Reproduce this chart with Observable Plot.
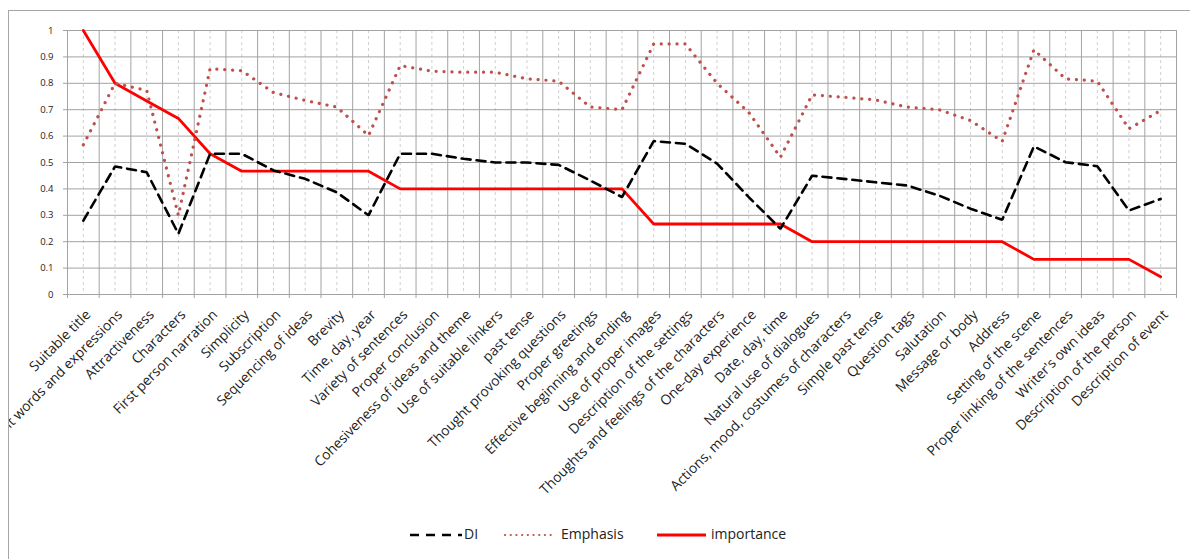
<!DOCTYPE html>
<html>
<head>
<meta charset="utf-8">
<script src="https://cdn.jsdelivr.net/npm/d3@7"></script>
<script src="https://cdn.jsdelivr.net/npm/@observablehq/plot@0.6"></script>
<style>
  html, body { margin: 0; padding: 0; background: #fff; }
  body { width: 1190px; height: 559px; position: relative; overflow: hidden; font-family: "Open Sans", sans-serif; }
  #frame { position: absolute; left: 8px; top: 10px; width: 1190px; height: 560px;
           border-left: 1.5px solid #a6a6a6; border-top: 1.5px solid #a6a6a6; overflow: hidden; }
  #chart { position: absolute; left: -9.5px; top: -11.5px; }
  #legend { position: absolute; left: 0; top: 0; width: 1190px; height: 559px; pointer-events: none; }
  .lg-text { position: absolute; top: 524px; font-size: 14px; color: #222; font-family: "Open Sans", sans-serif; }
</style>
</head>
<body>
<div id="frame"><div id="chart"></div></div>
<div id="legend"></div>
<script>
const categories = [
  "Suitable title", "Relevant words and expressions", "Attractiveness", "Characters",
  "First person narration", "Simplicity", "Subscription", "Sequencing of ideas", "Brevity",
  "Time, day, year", "Variety of sentences", "Proper conclusion", "Cohesiveness of ideas and theme",
  "Use of suitable linkers", "past tense", "Thought provoking questions", "Proper greetings",
  "Effective beginning and ending", "Use of proper images", "Description of the settings",
  "Thoughts and feelings of the characters", "One-day experience", "Date, day, time",
  "Natural use of dialogues", "Actions, mood, costumes of characters", "Simple past tense",
  "Question tags", "Salutation", "Message or body", "Address", "Setting of the scene",
  "Proper linking of the sentences", "Writer's own ideas", "Description of the person",
  "Description of event"
];
const diValues = [0.28, 0.485, 0.463, 0.23, 0.533, 0.533, 0.47, 0.438, 0.387, 0.30,
  0.533, 0.533, 0.514, 0.50, 0.50, 0.491, 0.432, 0.369, 0.581, 0.571,
  0.496, 0.369, 0.249, 0.45, 0.438, 0.425, 0.413, 0.375, 0.325, 0.283,
  0.561, 0.501, 0.486, 0.318, 0.362];
const emphasisValues = [0.567, 0.8, 0.773, 0.3, 0.855, 0.848, 0.765, 0.735, 0.71, 0.602,
  0.867, 0.846, 0.842, 0.842, 0.817, 0.808, 0.71, 0.70, 0.949, 0.949,
  0.80, 0.69, 0.52, 0.756, 0.747, 0.737, 0.71, 0.70, 0.659, 0.58,
  0.927, 0.817, 0.808, 0.628, 0.697];
const importanceValues = [1, 0.8, 0.733, 0.667, 0.533, 0.467, 0.467, 0.467, 0.467, 0.467,
  0.4, 0.4, 0.4, 0.4, 0.4, 0.4, 0.4, 0.4, 0.267, 0.267,
  0.267, 0.267, 0.267, 0.2, 0.2, 0.2, 0.2, 0.2, 0.2, 0.2,
  0.133, 0.133, 0.133, 0.133, 0.067];
const yTicks = [0, 0.1, 0.2, 0.3, 0.4, 0.5, 0.6, 0.7, 0.8, 0.9, 1];
const yTickLabels = ["0", "0.1", "0.2", "0.3", "0.4", "0.5", "0.6", "0.7", "0.8", "0.9", "1"];
const seriesNames = ["DI", "Emphasis", "importance"];

const idx = d3.range(categories.length);
const bounds = d3.range(categories.length + 1).map(i => i - 0.5);
const rows = (vals) => vals.map((v, i) => ({i, v}));

const plot = Plot.plot({
  width: 1190,
  height: 505,
  marginLeft: 67,
  marginRight: 14,
  marginTop: 30,
  marginBottom: 211,
  style: {fontFamily: "Open Sans, sans-serif", background: "transparent", overflow: "visible"},
  x: {type: "linear", domain: [-0.5, categories.length - 0.5]},
  y: {domain: [0, 1]},
  marks: [
    Plot.ruleX(idx, {x: d => d, stroke: "#cfcfcf", strokeWidth: 1, strokeDasharray: "3,3"}),
    Plot.ruleX(bounds, {x: d => d, stroke: "#a3a3a3", strokeWidth: 1}),
    Plot.ruleY(yTicks, {y: d => d, stroke: "#a3a3a3", strokeWidth: 1}),
    Plot.axisY({ticks: yTicks, tickFormat: (d, k) => yTickLabels[k], tickSize: 4, tickPadding: 10,
                fontSize: 9.5, stroke: "#a3a3a3", fill: "#222", label: null}),
    Plot.axisX({ticks: bounds, tickFormat: () => "", tickSize: 4, stroke: "#a3a3a3", label: null}),
    Plot.axisX({ticks: idx, tickFormat: i => categories[i], tickSize: 0, tickPadding: 18, dx: 5,
                tickRotate: -45, fontSize: 13.8, fill: "#222", label: null}),
    Plot.line(rows(importanceValues), {x: "i", y: "v", stroke: "#ff0000", strokeWidth: 2.8, strokeLinejoin: "miter"}),
    Plot.line(rows(emphasisValues), {x: "i", y: "v", stroke: "#c0504d", strokeWidth: 3.2,
              strokeDasharray: "0.1,7.8", strokeLinecap: "round"}),
    Plot.line(rows(diValues), {x: "i", y: "v", stroke: "#000", strokeWidth: 2.6,
              strokeDasharray: "9,6", strokeLinejoin: "miter"})
  ]
});
plot.style.maxWidth = "none";
plot.style.height = "505px";
document.getElementById("chart").appendChild(plot);

// Legend below the chart
const legend = document.getElementById("legend");
const ns = "http://www.w3.org/2000/svg";
function sample(x1, x2, stroke, width, dash, cap) {
  const s = document.createElementNS(ns, "svg");
  s.setAttribute("width", x2 - x1 + 6);
  s.setAttribute("height", 10);
  s.style.position = "absolute";
  s.style.left = (x1 - 3) + "px";
  s.style.top = "530px";
  const l = document.createElementNS(ns, "line");
  l.setAttribute("x1", 3); l.setAttribute("x2", x2 - x1 + 3);
  l.setAttribute("y1", 5); l.setAttribute("y2", 5);
  l.setAttribute("stroke", stroke); l.setAttribute("stroke-width", width);
  if (dash) l.setAttribute("stroke-dasharray", dash);
  if (cap) l.setAttribute("stroke-linecap", cap);
  s.appendChild(l);
  legend.appendChild(s);
}
function label(x, t) {
  const d = document.createElement("div");
  d.className = "lg-text";
  d.style.left = x + "px";
  d.textContent = t;
  legend.appendChild(d);
}
sample(410, 462, "#000", 2.6, "9,7");
label(464, seriesNames[0]);
sample(505, 551, "#c0504d", 2.2, "0.1,5.6", "round");
label(561, seriesNames[1]);
sample(657, 706, "#ff0000", 2.8);
label(711, seriesNames[2]);
</script>
</body>
</html>
